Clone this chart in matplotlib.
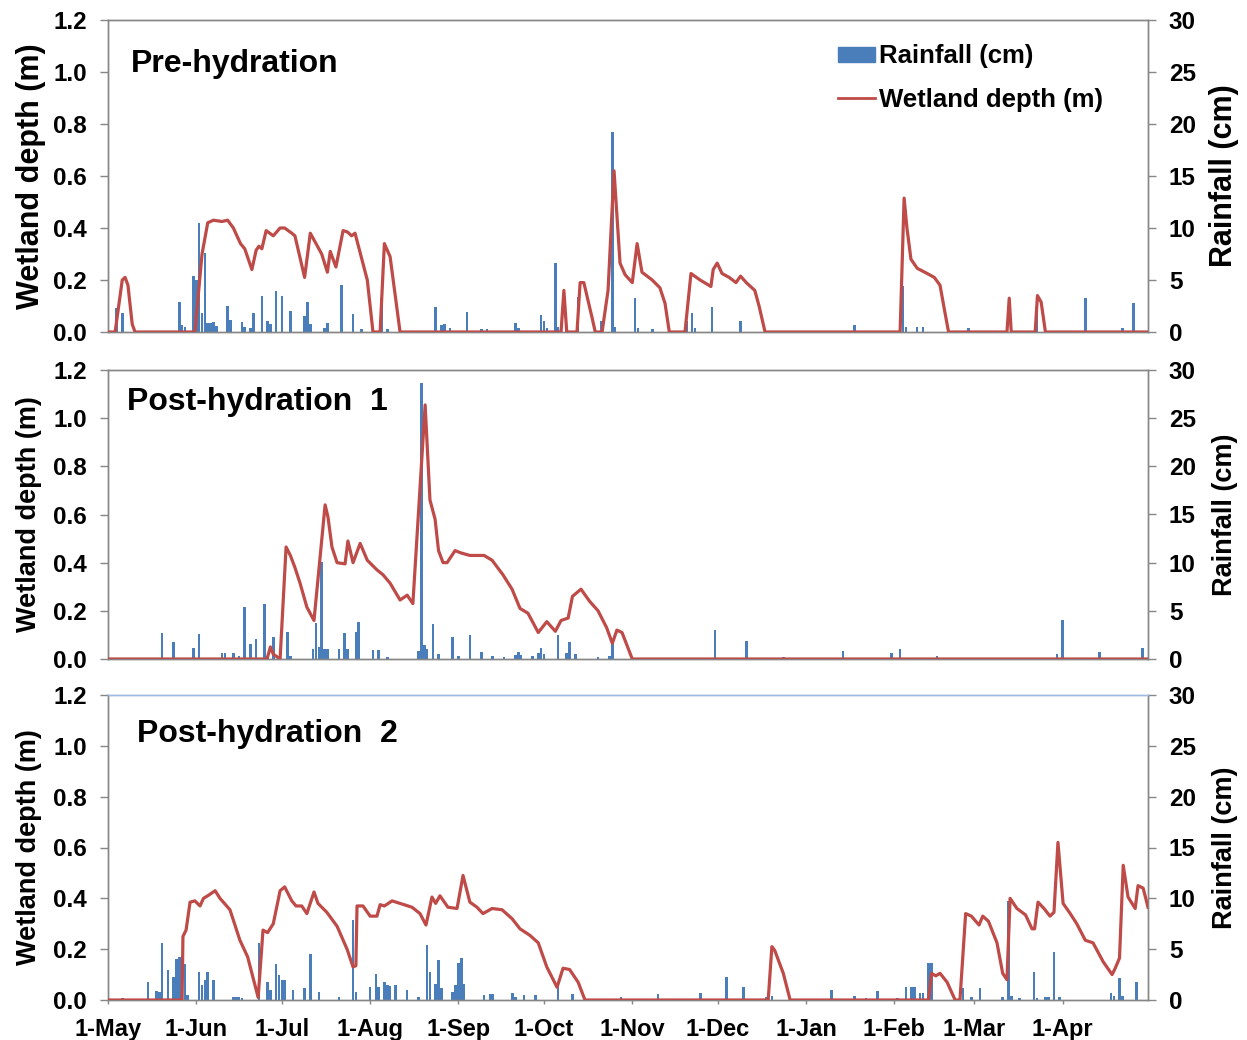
import numpy as np
import matplotlib
matplotlib.use("Agg")
import matplotlib.pyplot as plt
from matplotlib.patches import Patch
from matplotlib.lines import Line2D

plt.rcParams['font.family'] = ['Liberation Sans', 'DejaVu Sans']
plt.rcParams['font.weight'] = 'bold'

# x axis: days since 1-May
month_days = [0, 31, 61, 92, 123, 153, 184, 214, 245, 276, 304, 335]
month_labels = ['1-May', '1-Jun', '1-Jul', '1-Aug', '1-Sep', '1-Oct',
                '1-Nov', '1-Dec', '1-Jan', '1-Feb', '1-Mar', '1-Apr']

panel_titles = ['Pre-hydration', 'Post-hydration  1', 'Post-hydration  2']

# --- Pre-hydration ---
pre_depth_days = [0, 2.5, 5, 6, 7, 8.5, 9.5, 30.5, 33, 35, 37, 40, 42, 44, 46.5, 48, 50.5, 52, 53, 54,
                  55.5, 58, 60.4, 62, 64.5, 65.6, 69, 71, 75, 77, 78, 80, 82.5, 84, 85.5, 86.7, 91, 93,
                  95.5, 97, 99, 102.5, 159, 160, 161, 164.6, 165.7, 167, 170, 171, 173.4, 175.5, 177.6,
                  179.7, 181.5, 184, 185.7, 187.4, 191, 193.7, 195.5, 197, 202.5, 204.6, 207.8, 211.6,
                  212.4, 213.8, 215.5, 218, 220.4, 222, 224, 227, 228.5, 230.6, 278, 279.4, 280.4, 281.8,
                  284, 287.5, 290, 292, 293.4, 295, 315.5, 316.3, 317, 325.4, 326.2, 327.5, 329, 365]
pre_depth = [0, 0, 0.2, 0.21, 0.18, 0.03, 0, 0, 0.3, 0.42, 0.43, 0.425, 0.43, 0.4, 0.34, 0.32, 0.24, 0.315,
             0.33, 0.32, 0.39, 0.37, 0.40, 0.40, 0.38, 0.37, 0.21, 0.38, 0.30, 0.23, 0.31, 0.25, 0.39,
             0.385, 0.37, 0.38, 0.20, 0, 0, 0.34, 0.29, 0, 0, 0.16, 0, 0, 0.19, 0.19, 0.05, 0, 0, 0.16,
             0.62, 0.265, 0.22, 0.19, 0.34, 0.23, 0.20, 0.17, 0.11, 0, 0, 0.225, 0.20, 0.175, 0.24,
             0.265, 0.225, 0.21, 0.19, 0.215, 0.19, 0.16, 0.10, 0, 0, 0.515, 0.40, 0.28, 0.245, 0.225,
             0.21, 0.18, 0.095, 0, 0, 0.13, 0, 0, 0.14, 0.115, 0, 0]
pre_rain_days = [3, 5, 25, 26, 27, 30, 31, 32, 33, 34, 35, 36, 37, 38, 42, 43, 47, 48, 50, 51, 54, 56, 57,
                 59, 61, 64, 69, 70, 71, 76, 77, 82, 86, 89, 96, 98, 115, 117, 118, 120, 126, 131, 133,
                 143, 144, 152, 153, 154, 157, 158, 161, 165, 173, 177, 178, 185, 186, 191, 203, 205, 206,
                 212, 222, 262, 279, 280, 284, 286, 302, 326, 343, 356, 360]
pre_rain = [2.3, 1.8, 2.9, 0.7, 0.5, 5.4, 5.0, 10.5, 1.8, 7.6, 0.9, 0.9, 1.0, 0.6, 2.5, 1.2, 1.0, 0.5, 0.4,
            1.8, 3.5, 1.1, 0.8, 3.9, 3.5, 2.0, 1.5, 2.9, 0.8, 0.4, 0.9, 4.5, 1.7, 0.3, 3.3, 0.3, 2.4, 0.7,
            0.8, 0.4, 1.9, 0.3, 0.3, 0.9, 0.4, 1.6, 1.1, 0.4, 6.6, 0.5, 0.5, 3.4, 1.1, 19.2, 0.5, 3.3,
            0.4, 0.3, 1.1, 1.8, 0.4, 2.4, 1.1, 0.7, 4.4, 0.5, 0.5, 0.5, 0.4, 1.8, 3.3, 0.4, 2.8]

# --- Post-hydration 1 ---
post1_depth_days = [0, 55.8, 57, 58, 60.4, 62.5, 64, 65.6, 67.4, 69.8, 72.3, 76.2, 77.2, 78.6, 80.4, 83.2,
                    84.2, 86, 88.5, 91, 94.4, 96.5, 99, 102.5, 105, 107, 111.3, 113, 114.8, 116, 117.6,
                    119, 121.8, 124, 127, 130, 132, 134.8, 138.6, 141.8, 144.6, 147.4, 151, 154, 157, 159,
                    161.5, 163, 166, 169, 172, 175, 177, 178.6, 180.4, 184, 365]
post1_depth = [0, 0, 0.05, 0.02, 0, 0.465, 0.43, 0.38, 0.315, 0.215, 0.16, 0.64, 0.59, 0.465, 0.40, 0.395,
               0.49, 0.40, 0.48, 0.41, 0.37, 0.35, 0.315, 0.245, 0.265, 0.23, 1.055, 0.66, 0.58, 0.45, 0.40,
               0.40, 0.45, 0.44, 0.43, 0.43, 0.43, 0.41, 0.35, 0.29, 0.21, 0.19, 0.11, 0.155, 0.115, 0.16,
               0.17, 0.26, 0.29, 0.24, 0.20, 0.13, 0.065, 0.12, 0.11, 0, 0]
post1_rain_days = [19, 23, 30, 32, 40, 41, 44, 46, 48, 50, 52, 55, 56, 58, 63, 64, 72, 73, 74, 75, 76, 77,
                   81, 83, 84, 87, 88, 93, 95, 98, 109, 110, 111, 112, 114, 116, 121, 123, 127, 131, 135,
                   139, 143, 144, 145, 149, 151, 152, 153, 158, 161, 162, 164, 172, 176, 177, 213, 224,
                   237, 258, 275, 278, 291, 333, 335, 348, 363]
post1_rain = [2.7, 1.8, 1.1, 2.6, 0.6, 0.6, 0.6, 0.3, 5.4, 1.6, 2.1, 5.7, 0.3, 2.3, 2.8, 0.3, 1.0, 3.7,
              1.2, 10.1, 1.0, 1.0, 1.0, 2.7, 1.0, 2.8, 3.8, 0.9, 0.9, 0.2, 0.8, 28.6, 1.5, 1.0, 3.6, 0.5,
              2.3, 0.3, 2.5, 0.7, 0.3, 0.2, 0.4, 0.7, 0.4, 0.3, 0.6, 1.1, 0.5, 2.5, 0.6, 1.8, 0.5, 0.2,
              0.3, 1.8, 3.0, 1.9, 0.2, 0.8, 0.6, 1.0, 0.3, 0.5, 4.1, 0.7, 1.1]

# --- Post-hydration 2 ---
post2_depth_days = [0, 26, 26.3, 27.4, 28.8, 30.5, 32.3, 33.5, 35, 37.6, 39.3, 42.8, 46.3, 49, 52.7, 54.4,
                    56, 58, 60.4, 62, 64.5, 66, 68, 69.8, 72.3, 73.7, 76.8, 80.4, 83.9, 86, 87, 87.4, 89.5,
                    92, 94.4, 95.5, 97, 99.7, 102.5, 106.7, 109.5, 111.6, 113.7, 115, 116.5, 119.3, 122.5,
                    124.6, 127, 129.5, 131.6, 134.8, 138.3, 141.8, 144.6, 148, 151, 154, 157.6, 159.7, 162,
                    165, 167.4, 231.7, 233, 234, 237, 239.4, 288, 289, 290.5, 292, 294.5, 297.3, 299, 301,
                    303, 305.7, 307, 309, 312, 314, 315.5, 316.6, 319, 322, 324.3, 325.2, 326.4, 328.5,
                    330.6, 332, 333.4, 335.2, 337.7, 340, 343, 345.7, 349.3, 352.4, 353.5, 355, 356.3, 358,
                    360.5, 361.5, 363.3, 365]
post2_depth = [0, 0, 0.25, 0.275, 0.385, 0.39, 0.37, 0.40, 0.41, 0.43, 0.40, 0.355, 0.235, 0.17, 0.01,
               0.275, 0.265, 0.30, 0.43, 0.445, 0.39, 0.37, 0.37, 0.34, 0.425, 0.38, 0.345, 0.29, 0.20,
               0.13, 0.135, 0.37, 0.37, 0.33, 0.33, 0.375, 0.37, 0.39, 0.38, 0.365, 0.34, 0.295, 0.405,
               0.38, 0.41, 0.365, 0.36, 0.49, 0.385, 0.365, 0.34, 0.36, 0.355, 0.32, 0.28, 0.255, 0.225,
               0.13, 0.05, 0.125, 0.12, 0.07, 0, 0, 0.21, 0.195, 0.105, 0, 0, 0.105, 0.095, 0.105, 0.07,
               0, 0, 0.34, 0.33, 0.295, 0.33, 0.31, 0.225, 0.105, 0.08, 0.40, 0.36, 0.335, 0.28, 0.28,
               0.385, 0.36, 0.33, 0.345, 0.62, 0.38, 0.34, 0.30, 0.235, 0.225, 0.15, 0.10, 0.125, 0.165,
               0.53, 0.405, 0.36, 0.45, 0.44, 0.365]
post2_rain_days = [5, 14, 17, 18, 19, 21, 23, 24, 25, 26, 27, 28, 32, 33, 34, 35, 37, 44, 45, 46, 47, 53,
                   56, 57, 59, 60, 61, 62, 65, 69, 71, 74, 81, 86, 87, 92, 94, 95, 97, 98, 99, 101, 105,
                   109, 112, 113, 115, 116, 117, 121, 122, 123, 124, 125, 132, 134, 135, 142, 143, 146,
                   150, 158, 163, 180, 193, 208, 217, 223, 231, 233, 254, 262, 266, 270, 277, 280, 282,
                   283, 285, 286, 288, 289, 300, 303, 306, 314, 316, 317, 320, 325, 326, 329, 330, 332,
                   334, 352, 353, 355, 356, 361]
post2_rain = [0.2, 1.8, 0.9, 0.8, 5.6, 3.0, 2.3, 4.0, 4.2, 4.3, 3.5, 0.5, 2.8, 1.5, 2.0, 2.8, 2.0, 0.3,
              0.3, 0.3, 0.2, 5.6, 1.8, 1.0, 3.5, 2.5, 2.0, 2.0, 1.0, 1.2, 4.5, 0.8, 0.3, 7.9, 0.8, 1.3,
              2.6, 1.3, 1.8, 1.5, 1.4, 1.5, 1.0, 0.3, 5.4, 2.8, 1.6, 3.9, 1.2, 0.8, 1.5, 3.6, 4.1, 1.6,
              0.5, 0.6, 0.6, 0.7, 0.3, 0.5, 0.5, 1.3, 0.6, 0.3, 0.6, 0.7, 2.3, 1.3, 0.3, 0.4, 1.0, 0.4,
              0.2, 0.9, 0.2, 1.3, 1.3, 1.3, 0.7, 0.7, 3.6, 3.6, 1.2, 0.3, 1.2, 0.3, 9.7, 0.4, 0.2, 2.8,
              0.2, 0.3, 0.3, 4.7, 0.3, 0.7, 0.4, 2.2, 0.4, 1.8]

BLUE = '#4a7ebb'
RED = '#be4b48'
GRAY = '#868686'

# axes boxes in figure fractions: left, bottom, width, height
AX_LEFT, AX_WIDTH = 108 / 1247, 1040 / 1247
PANEL_BOXES = [(1 - 332 / 1040, 312 / 1040),
               (1 - 659 / 1040, 289 / 1040),
               (1 - 1000 / 1040, 305 / 1040)]


def draw_panel(fig, box, title, title_pos, depth_days, depth, rain_days, rain,
               label_size, label_x, top_color, show_xticks, legend=False):
    bottom, height = box
    ax = fig.add_axes([AX_LEFT, bottom, AX_WIDTH, height])
    ax2 = ax.twinx()

    # rainfall bars on the right axis, depth line drawn above them
    ax2.bar(rain_days, rain, width=0.9, color=BLUE, align='center', zorder=2)
    ax.plot(depth_days, depth, color=RED, lw=2.3, zorder=3)
    ax.set_zorder(ax2.get_zorder() + 1)
    ax.patch.set_visible(False)

    ax.set_xlim(0, 365)
    ax.set_ylim(0, 1.2)
    ax2.set_ylim(0, 30)
    ax.set_yticks(np.arange(0, 1.21, 0.2))
    ax.set_yticklabels([f"{v:.1f}" for v in np.arange(0, 1.21, 0.2)])
    ax2.set_yticks(np.arange(0, 31, 5))

    for a in (ax, ax2):
        for side in ('left', 'right', 'bottom'):
            a.spines[side].set_color(GRAY)
            a.spines[side].set_linewidth(1.0)
        a.spines['top'].set_color(top_color)
        a.spines['top'].set_linewidth(1.0)
        a.tick_params(axis='y', colors=GRAY, length=6, width=1.0, pad=9,
                      labelsize=17.5, labelcolor='black')

    ax.set_xticks(month_days)
    if show_xticks:
        ax.set_xticklabels(month_labels)
        ax.tick_params(axis='x', colors=GRAY, length=3, width=1.0, pad=10,
                       labelsize=17, labelcolor='black')
    else:
        ax.set_xticklabels([])
        ax.tick_params(axis='x', length=0)

    ax.set_ylabel('Wetland depth (m)', fontsize=label_size, fontweight='bold')
    ax2.set_ylabel('Rainfall (cm)', fontsize=label_size, fontweight='bold')
    ax.yaxis.set_label_coords(label_x[0], 0.5)
    ax2.yaxis.set_label_coords(label_x[1], 0.5)

    ax.text(title_pos[0], title_pos[1], title, transform=ax.transAxes,
            fontsize=23, fontweight='bold', ha='left', va='center')

    if legend:
        handles = [Patch(facecolor=BLUE, edgecolor=BLUE),
                   Line2D([0], [0], color=RED, lw=2)]
        ax.legend(handles, ['Rainfall (cm)', 'Wetland depth (m)'],
                  loc='upper left', bbox_to_anchor=(0.702, 0.922), frameon=False,
                  fontsize=18.5, handlelength=1.45, handleheight=0.5,
                  handletextpad=0.15, labelspacing=0.75, borderpad=0,
                  borderaxespad=0)
    return ax


def main():
    print("Plotting wetland depth and rainfall...")
    fig = plt.figure(figsize=(12.47, 10.4), dpi=100)

    draw_panel(fig, PANEL_BOXES[0], panel_titles[0], (0.022, 0.859),
               pre_depth_days, pre_depth, pre_rain_days, pre_rain,
               label_size=22, label_x=(-0.060, 1.059), top_color=GRAY,
               show_xticks=False, legend=True)
    draw_panel(fig, PANEL_BOXES[1], panel_titles[1], (0.018, 0.889),
               post1_depth_days, post1_depth, post1_rain_days, post1_rain,
               label_size=19.5, label_x=(-0.063, 1.062), top_color=GRAY,
               show_xticks=False)
    draw_panel(fig, PANEL_BOXES[2], panel_titles[2], (0.028, 0.872),
               post2_depth_days, post2_depth, post2_rain_days, post2_rain,
               label_size=19.5, label_x=(-0.063, 1.062), top_color='#9dbbe0',
               show_xticks=True)

    fig.savefig("out.png", dpi=100)
    print("Saved out.png")


if __name__ == "__main__":
    main()
